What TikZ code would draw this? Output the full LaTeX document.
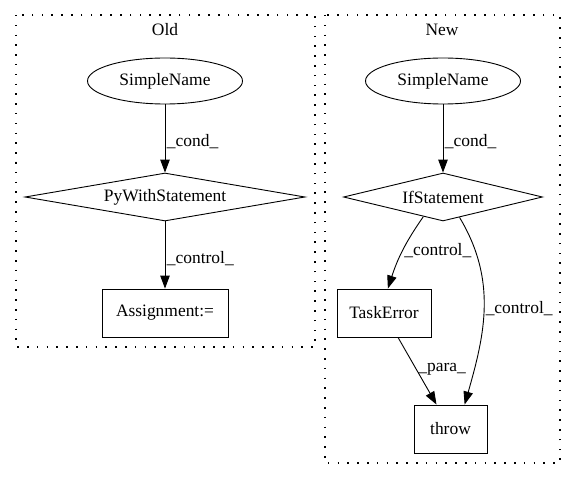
\documentclass[tikz,border=0pt]{standalone}
\usepackage{fontspec}
\setmainfont{Liberation Serif}
\usetikzlibrary{shapes.geometric,arrows.meta}
\begin{document}
\begin{tikzpicture}[>={Triangle[length=13bp,width=9.5bp]},x=1bp,y=1bp,line width=0.9bp,
	every node/.style={font=\fontsize{17.5}{20}\selectfont},
	cluster/.style={dash pattern=on 1.5bp off 8.3bp,line width=1.2bp},
	ell/.style={draw,ellipse,minimum width=155bp,minimum height=46bp,inner sep=0},
	dia/.style={draw,diamond,minimum height=48bp,inner sep=0},
	box/.style={draw,rectangle,minimum height=48bp,inner sep=0},
	lbl/.style={anchor=west,inner sep=1.5bp}]
	\useasboundingbox (0,0) rectangle (576,-480);
	% Old
	\draw[cluster] (16,-15) rectangle (315,-347);
	\node (old) at (165,-30) {Old};
	\node[ell] (oname) at (165,-81) {SimpleName};
	\node[dia,minimum width=280bp,shape aspect=5.8] (owith) at (165,-197) {PyWithStatement};
	\node[box,minimum width=126bp] (oassign) at (165,-313) {Assignment:=};
	\draw[->] (oname) -- (owith) node[lbl,pos=0.55] {\_cond\_};
	\draw[->] (owith) -- (oassign) node[lbl,pos=0.55] {\_control\_};
	% New
	\draw[cluster] (325,-15) rectangle (560,-463);
	\node (new) at (442,-30) {New};
	\node[ell] (nname) at (443,-81) {SimpleName};
	\node[dia,minimum width=199bp,shape aspect=4.1] (nif) at (443,-197) {IfStatement};
	\node[box,minimum width=94bp] (ntask) at (384,-313) {TaskError};
	\node[box,minimum width=73bp] (nthrow) at (450.5,-429) {throw};
	\draw[->] (nname) -- (nif) node[lbl,pos=0.55] {\_cond\_};
	\draw[->] (nif.-135) to[out=-125,in=72] node[lbl,pos=0.5] {\_control\_} (ntask.81);
	\draw[->] (nif.-51) to[out=-59,in=74] node[lbl,pos=0.5] {\_control\_} (nthrow.60);
	\draw[->] (ntask) -- (nthrow) node[lbl,pos=0.48] {\_para\_};
\end{tikzpicture}
\end{document}
